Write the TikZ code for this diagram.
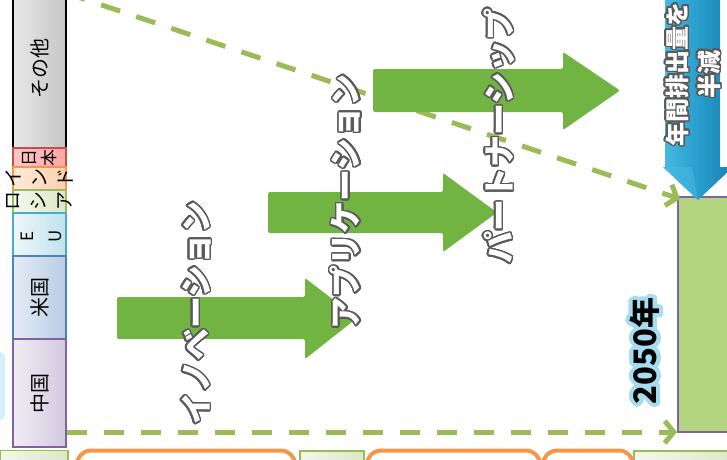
\documentclass[tikz,border=0pt]{standalone}
\usepackage{fontspec}
\newfontfamily\jp{Noto Sans CJK JP}
\usepackage{contour}
\contournumber{32}
\usetikzlibrary{arrows.meta}
\definecolor{dashgreen}{HTML}{9BBB59}
\definecolor{arrgreen}{RGB}{114,180,66}
\definecolor{boxgreen}{HTML}{B3D57F}
\definecolor{purp}{HTML}{8064A2}
\definecolor{orng}{HTML}{F79646}
\definecolor{redb}{HTML}{C0504D}
\definecolor{cyanb}{HTML}{4BACC6}
\definecolor{blueb}{HTML}{4F81BD}
\definecolor{glowblue}{HTML}{A6DCF0}
\definecolor{shadowgray}{HTML}{5A5A5A}
\definecolor{arrblueL}{RGB}{72,186,226}
\definecolor{arrblueM}{RGB}{40,158,205}
\definecolor{arrblueR}{RGB}{24,128,178}
\tikzset{
  barbox/.style={line width=1.3pt},
  barlabel/.style={rotate=90, inner sep=0pt, align=center, font=\jp\fontsize{20}{20}\selectfont},
  arrowlabel/.style={rotate=90, inner sep=0pt, text=white, font=\jp\bfseries\fontsize{32}{32}\selectfont},
  bigarrow/.style={fill=arrgreen, rounded corners=2pt},
  dashline/.style={draw=dashgreen, line width=5pt, dash pattern=on 20pt off 17pt, -{Straight Barb[length=9pt,width=22pt]}},
  greenbox/.style={draw=dashgreen, line width=1.3pt, left color=dashgreen!12, right color=dashgreen!35},
  orangebox/.style={draw=orng, line width=4pt, fill=white, rounded corners=14pt},
}
\begin{document}
\begin{tikzpicture}[x=1pt,y=-1pt]
\useasboundingbox (0,0) rectangle (727,459);
\clip (0,0) rectangle (727,459);
\fill[white] (0,0) rectangle (727,459);
% faint glow at left edge
\fill[glowblue!45, rounded corners=5pt] (-10,352) rectangle (5,420);
% stacked bar
\draw[barbox, draw=black, left color=gray!18, right color=gray!45] (13,-5) rectangle (66,148);
\draw[barbox, draw=redb, left color=red!22, right color=red!35] (13,148) rectangle (66,167);
\draw[barbox, draw=orng, left color=orng!20, right color=orng!45] (13,167) rectangle (66,190);
\draw[barbox, draw=dashgreen, left color=dashgreen!10, right color=dashgreen!35] (13,190) rectangle (66,213);
\draw[barbox, draw=cyanb, left color=cyanb!10, right color=cyanb!35] (13,213) rectangle (66,256);
\draw[barbox, draw=blueb, left color=blueb!15, right color=blueb!40] (13,256) rectangle (66,339);
\draw[barbox, draw=purp, left color=purp!12, right color=purp!35] (13,339) rectangle (66,447);
\node[barlabel] (sonota) at (40,68) {その他};
\node[barlabel, font=\jp\fontsize{17}{20}\selectfont] (nihon) at (40,158) {日\\本};
\node[barlabel, font=\jp\fontsize{19}{26}\selectfont] (india) at (39,178) {イ\\ン\\ド};
\node[barlabel, font=\jp\fontsize{19}{26}\selectfont] (russia) at (39,201) {ロ\\シ\\ア};
\node[barlabel, font=\jp\fontsize{17}{28}\selectfont] (eu) at (41,236) {E\\U};
\node[barlabel] (usa) at (40,297) {米国};
\node[barlabel] (china) at (40,393) {中国};
% target box
\draw[draw=purp, line width=1.3pt, fill=boxgreen] (678,197) rectangle (740,432);
\coordinate (boxtl) at (680,199);
\coordinate (boxbl) at (677,432);
\coordinate (diagstart) at (66,-7);
\coordinate (horstart) at (67,432);
% dashed connectors
\draw[dashline] (diagstart) -- (boxtl);
\draw[dashline] (horstart) -- (boxbl);
% green arrows
\path[bigarrow] (117,297) -- (305,297) -- (305,278) -- (357,318) -- (305,359) -- (305,339) -- (117,339) -- cycle;
\path[bigarrow] (268,192) -- (443,192) -- (443,173) -- (497,212.5) -- (443,252) -- (443,233) -- (268,233) -- cycle;
\path[bigarrow] (373,69) -- (563,69) -- (563,52) -- (620,90.5) -- (563,130) -- (563,112) -- (373,112) -- cycle;
% blue arrow
\path[left color=arrblueL, right color=arrblueR, middle color=arrblueM]
  (665,-5) -- (720,-5) -- (720,167) -- (733,167) -- (698,200) -- (663,167) -- (665,167) -- cycle;
\path[fill=arrblueL, opacity=0.5] (663,167) -- (698,200) -- (692,167) -- cycle;
\contourlength{1.5pt}
\node[rotate=90, inner sep=0pt, text=white, align=center, font=\jp\bfseries\fontsize{24}{32}\selectfont] (halve) at (694,74) {\contour{shadowgray}{年間排出量を}\\\contour{shadowgray}{半減}};
% arrow labels
\node[arrowlabel] (innov) at (197,313) {\contour{shadowgray}{イノベーション}};
\node[arrowlabel] (appl) at (346,202) {\contour{shadowgray}{アプリケーション}};
\node[arrowlabel] (partner) at (500,136) {\contour{shadowgray}{パートナーシップ}};
\contourlength{4pt}
\node[rotate=90, inner sep=0pt, font=\jp\bfseries\fontsize{31}{31}\selectfont] (y2050) at (647,351) {\contour{glowblue}{2050年}};
% bottom strip
\draw[greenbox] (0,450.7) rectangle (68,490);
\draw[orangebox] (77,450.5) rectangle (295,500);
\draw[greenbox] (300,451) rectangle (364,490);
\draw[orangebox] (367,450.5) rectangle (540,500);
\draw[orangebox] (543,450.5) rectangle (633,500);
\draw[greenbox] (634,451) rectangle (740,490);
\end{tikzpicture}
\end{document}
